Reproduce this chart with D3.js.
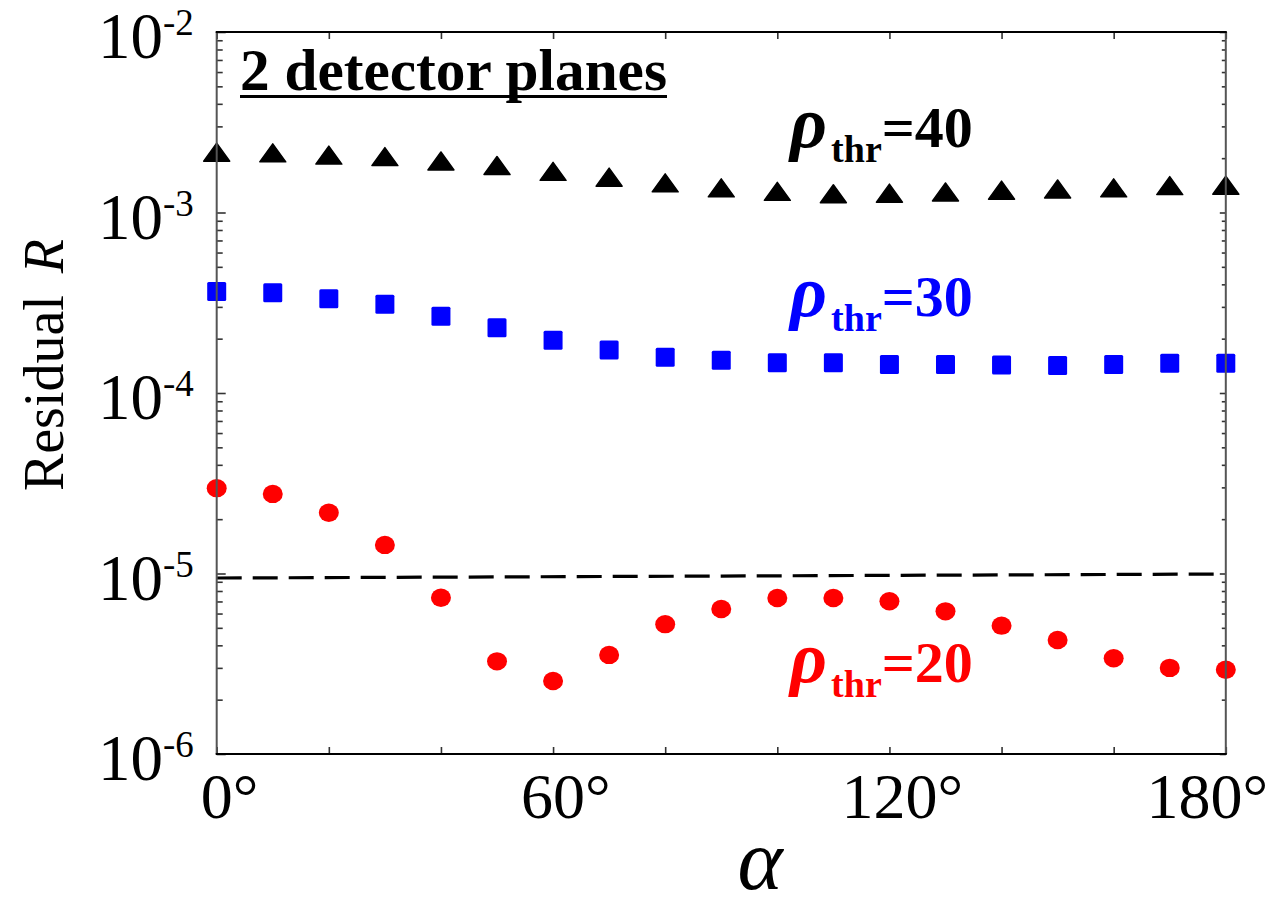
<!DOCTYPE html>
<html><head><meta charset="utf-8">
<script src="https://cdn.jsdelivr.net/npm/d3@7"></script>
<style>body{margin:0;background:#fff}</style>
</head><body><svg id="c" width="1272" height="909" font-family="'Liberation Serif','Times New Roman',serif"></svg>
<script>
// ---- data ----
const alphaDeg = [0,10,20,30,40,50,60,70,80,90,100,110,120,130,140,150,160,170,180];
const rho40 = [2.16e-3,2.14e-3,2.08e-3,2.04e-3,1.93e-3,1.82e-3,1.69e-3,1.57e-3,1.46e-3,1.37e-3,1.31e-3,1.27e-3,1.28e-3,1.30e-3,1.33e-3,1.35e-3,1.37e-3,1.41e-3,1.415e-3];
const rho30 = [3.65e-4,3.59e-4,3.33e-4,3.10e-4,2.66e-4,2.30e-4,1.96e-4,1.73e-4,1.58e-4,1.52e-4,1.47e-4,1.47e-4,1.44e-4,1.44e-4,1.43e-4,1.42e-4,1.44e-4,1.46e-4,1.46e-4];
const rho20 = [2.97e-5,2.76e-5,2.17e-5,1.44e-5,7.34e-6,3.26e-6,2.54e-6,3.54e-6,5.24e-6,6.36e-6,7.31e-6,7.31e-6,7.02e-6,6.17e-6,5.14e-6,4.28e-6,3.39e-6,3.00e-6,2.93e-6];
const thresholdAlpha = [0, 90, 178];
const thresholdR = [9.44e-6, 9.68e-6, 9.93e-6];
const yTickExponents = [-2,-3,-4,-5,-6];
const xTickLabels = [0,60,120,180];
const xMinorTicks = [0,20,40,60,80,100,120,140,160,180];
const seriesNames = ["40","30","20"];
const panelTitle = "2 detector planes";

// ---- layout ----
const FONT = "'Liberation Serif','Times New Roman',serif";
const L=216.7, R=1225.8, T=32, B=754;
const svg = d3.select("#c");
const x = d3.scaleLinear().domain([0,180]).range([L,R]);
const y = d3.scaleLog().domain([1e-6,1e-2]).range([B,T]);

const minorY = [];
for (let e=-6;e<-2;e++) for (let m=2;m<=9;m++) minorY.push(m*Math.pow(10,e));
const majorY = yTickExponents.map(e=>Math.pow(10,e));

function styleAxis(g){ g.select(".domain").remove(); g.selectAll(".tick line").attr("stroke","#333").attr("stroke-width",1.6); g.selectAll("text").remove(); }

// ticks
svg.append("g").attr("transform",`translate(${L},0)`).call(d3.axisLeft(y).tickValues(majorY).tickSizeInner(-9).tickSizeOuter(0)).call(styleAxis);
svg.append("g").attr("transform",`translate(${L},0)`).call(d3.axisLeft(y).tickValues(minorY).tickSizeInner(-6).tickSizeOuter(0)).call(styleAxis);
svg.append("g").attr("transform",`translate(${R},0)`).call(d3.axisRight(y).tickValues(majorY).tickSizeInner(-6).tickSizeOuter(0)).call(styleAxis);
svg.append("g").attr("transform",`translate(${R},0)`).call(d3.axisRight(y).tickValues(minorY).tickSizeInner(-4).tickSizeOuter(0)).call(styleAxis);
svg.append("g").attr("transform",`translate(0,${T})`).call(d3.axisTop(x).tickValues(xMinorTicks).tickSizeInner(-7).tickSizeOuter(0)).call(styleAxis);
svg.append("g").attr("transform",`translate(0,${B})`).call(d3.axisBottom(x).tickValues(xMinorTicks).tickSizeInner(-7).tickSizeOuter(0)).call(styleAxis);

// dashed threshold line
svg.append("path").datum(thresholdAlpha.map((a,i)=>[a,thresholdR[i]]))
  .attr("d", d3.line().x(d=>x(d[0])).y(d=>y(d[1])))
  .attr("fill","none").attr("stroke","#000").attr("stroke-width",3.2).attr("stroke-dasharray","25,11");

// markers
function triPath(cx,cy){ const w=26,h=18; return `M${cx-w/2},${cy+h/2}L${cx},${cy-h/2}L${cx+w/2},${cy+h/2}Z`; }
svg.append("g").selectAll("path").data(alphaDeg).join("path")
  .attr("d",(a,i)=>triPath(x(a),y(rho40[i]))).attr("fill","#000").attr("stroke","#000").attr("stroke-width",1.5).attr("stroke-linejoin","round");
svg.append("g").selectAll("rect").data(alphaDeg).join("rect")
  .attr("x",a=>x(a)-9.5).attr("y",(a,i)=>y(rho30[i])-9.5).attr("width",19).attr("height",19).attr("rx",1.5)
  .attr("fill","#0000ff");
svg.append("g").selectAll("ellipse").data(alphaDeg).join("ellipse")
  .attr("cx",a=>x(a)).attr("cy",(a,i)=>y(rho20[i])).attr("rx",10).attr("ry",9.2)
  .attr("fill","#ff0000");

// frame (on top)
svg.append("line").attr("x1",L).attr("x2",L).attr("y1",T).attr("y2",B).attr("stroke","#555").attr("stroke-width",2);
svg.append("line").attr("x1",R).attr("x2",R).attr("y1",T).attr("y2",B).attr("stroke","#555").attr("stroke-width",2);
svg.append("line").attr("x1",L-1).attr("x2",R+1).attr("y1",T).attr("y2",T).attr("stroke","#000").attr("stroke-width",2);
svg.append("line").attr("x1",L-1).attr("x2",R+1).attr("y1",B).attr("y2",B).attr("stroke","#000").attr("stroke-width",2);

// y tick labels
yTickExponents.forEach(e=>{
  const yy = y(Math.pow(10,e));
  const t = svg.append("text").attr("x",98).attr("y",yy+26).attr("fill","#000").attr("font-family",FONT);
  t.append("tspan").attr("font-size",65).text("10");
  t.append("tspan").attr("font-size",37).attr("dy",-23).text("-"+(-e));
});

// x tick labels
xTickLabels.forEach(v=>{
  const t = svg.append("text").attr("y",818).attr("font-size",64).attr("fill","#000").attr("font-family",FONT);
  const n = t.append("tspan").text(String(v));
  t.append("tspan").text("°");
  const nw = n.node().getComputedTextLength();
  const tw = t.node().getComputedTextLength();
  let sx = x(v) - nw/2;
  if (sx + tw > 1268) sx = 1268 - tw;
  t.attr("x", sx);
});

// axis titles
svg.append("text").attr("x",760).attr("y",889).attr("text-anchor","middle").attr("font-size",86).attr("font-style","italic").attr("font-family",FONT).text("α");
const yt = svg.append("text").attr("transform","translate(63,365) rotate(-90)").attr("text-anchor","middle").attr("font-size",56).attr("font-family",FONT);
yt.append("tspan").text("Residual");
yt.append("tspan").attr("dx",22).attr("font-style","italic").text("R");

// panel title
const title = svg.append("text").attr("x",240).attr("y",90).attr("font-size",59).attr("font-weight","bold").attr("font-family",FONT).text(panelTitle);
title.attr("textLength",427).attr("lengthAdjust","spacingAndGlyphs");
svg.append("rect").attr("x",240).attr("y",95).attr("width",427).attr("height",3).attr("fill","#000");

// series labels
const labelColors = ["#000","#0000ff","#ff0000"];
const labelBase = [147,316,682];
seriesNames.forEach((s,i)=>{
  const t = svg.append("text").attr("x",790).attr("y",labelBase[i]).attr("fill",labelColors[i]).attr("font-weight","bold").attr("font-family",FONT);
  t.append("tspan").attr("font-size",72).attr("font-style","italic").text("ρ");
  t.append("tspan").attr("font-size",38).attr("dx",4).attr("dy",15).text("thr");
  t.append("tspan").attr("font-size",58).attr("dy",-15).text("="+s);
});
</script></body></html>
